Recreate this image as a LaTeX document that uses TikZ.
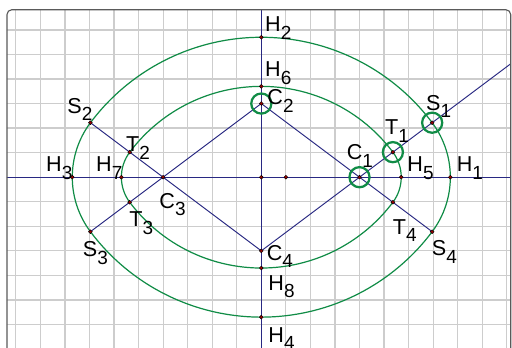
\documentclass[tikz,border=0pt]{standalone}
\usepackage{fontspec}
\setmainfont{Liberation Sans}
\usetikzlibrary{calc}
\definecolor{ggnavy}{RGB}{40,40,130}
\definecolor{gggreen}{RGB}{16,140,70}
\definecolor{gggrid}{RGB}{205,205,205}
\definecolor{ggdot}{RGB}{150,0,0}
\definecolor{ggframe}{RGB}{90,90,90}
\newcommand{\lb}[2]{{\fontsize{25}{25}\selectfont #1}\raisebox{-8.5pt}{\fontsize{22}{22}\selectfont #2}}
\begin{document}
\begin{tikzpicture}[
  gridline/.style={gggrid, line width=1.4pt},
  axisline/.style={ggnavy, line width=1.2pt},
  conline/.style={ggnavy, line width=1.1pt},
  arcline/.style={gggreen, line width=1.4pt},
  ring/.style={circle, draw=gggreen, line width=2.6pt, inner sep=0pt, minimum size=0.82cm},
  pt/.style={circle, fill=ggdot, draw=black, line width=0.5pt, inner sep=0pt, minimum size=4.5pt},
  lab/.style={anchor=base west, inner sep=0pt}
]
\useasboundingbox (-10.644,-6.917) rectangle (10.212,7.218);
\fill[white] (-10.644,-6.917) rectangle (10.212,7.218);
% points
\coordinate (O) at (0,0);
\coordinate (E) at (1,0);
\coordinate (C1) at (4,0);
\coordinate (C2) at (0,3);
\coordinate (C3) at (-4,0);
\coordinate (C4) at (0,-3);
\coordinate (H1) at (7.7,0);
\coordinate (H2) at (0,5.7);
\coordinate (H3) at (-7.7,0);
\coordinate (H4) at (0,-5.7);
\coordinate (H5) at (5.7,0);
\coordinate (H6) at (0,3.7);
\coordinate (H7) at (-5.7,0);
\coordinate (H8) at (0,-3.7);
\coordinate (S1) at (6.96,2.22);
\coordinate (S2) at (-6.96,2.22);
\coordinate (S3) at (-6.96,-2.22);
\coordinate (S4) at (6.96,-2.22);
\coordinate (T1) at (5.36,1.02);
\coordinate (T2) at (-5.36,1.02);
\coordinate (T3) at (-5.36,-1.02);
\coordinate (T4) at (5.36,-1.02);
\coordinate (Rend) at ($(C4)!3.5!(C1)$);
\begin{scope}
\clip[rounded corners=0.2cm] (-10.36,-8) rectangle (10.16,6.823);
\draw[gridline] (-11,-8) grid (11,7);
\draw[axisline] (-11,0) -- (11,0);
\draw[axisline] (0,-8) -- (0,7);
% construction lines
\draw[conline] (C4) -- (Rend);
\draw[conline] (C4) -- (S2);
\draw[conline] (C2) -- (S3);
\draw[conline] (C2) -- (S4);
% oval arcs
\draw[arcline] (S1) arc[start angle=36.8699, end angle=143.1301, radius=8.7]
  arc[start angle=143.1301, end angle=216.8699, radius=3.7]
  arc[start angle=216.8699, end angle=323.1301, radius=8.7]
  arc[start angle=-36.8699, end angle=36.8699, radius=3.7];
\draw[arcline] (T1) arc[start angle=36.8699, end angle=143.1301, radius=6.7]
  arc[start angle=143.1301, end angle=216.8699, radius=1.7]
  arc[start angle=216.8699, end angle=323.1301, radius=6.7]
  arc[start angle=-36.8699, end angle=36.8699, radius=1.7];
\end{scope}
\draw[ggframe, line width=1.3pt, rounded corners=0.2cm] (-10.36,-8) rectangle (10.16,6.823);
% rings
\node[ring] (rC1) at (C1) {};
\node[ring] (rC2) at (C2) {};
\node[ring] (rT1) at (T1) {};
\node[ring] (rS1) at (S1) {};
% dots
\foreach \p in {O,E,C1,C2,C3,C4,H1,H2,H3,H4,H5,H6,H7,H8,S1,S2,S3,S4,T1,T2,T3,T4}
  \node[pt] (d\p) at (\p) {};
% labels
\node[lab] (lH1) at (7.959,0.224) {\lb{H}{1}};
\node[lab] (lH2) at (0.151,5.927) {\lb{H}{2}};
\node[lab] (lH3) at (-8.77,0.224) {\lb{H}{3}};
\node[lab] (lH4) at (0.285,-6.713) {\lb{H}{4}};
\node[lab] (lH5) at (5.947,0.224) {\lb{H}{5}};
\node[lab] (lH6) at (0.151,4.094) {\lb{H}{6}};
\node[lab] (lH7) at (-6.733,0.224) {\lb{H}{7}};
\node[lab] (lH8) at (0.285,-4.607) {\lb{H}{8}};
\node[lab] (lC1) at (3.479,0.701) {\lb{C}{1}};
\node[lab] (lC2) at (0.244,2.941) {\lb{C}{2}};
\node[lab] (lC3) at (-4.155,-1.267) {\lb{C}{3}};
\node[lab] (lC4) at (0.22,-3.385) {\lb{C}{4}};
\node[lab] (lS1) at (6.709,2.737) {\lb{S}{1}};
\node[lab] (lS2) at (-7.902,2.603) {\lb{S}{2}};
\node[lab] (lS3) at (-7.275,-3.25) {\lb{S}{3}};
\node[lab] (lS4) at (6.941,-3.198) {\lb{S}{4}};
\node[lab] (lT1) at (5.039,1.719) {\lb{T}{1}};
\node[lab] (lT2) at (-5.511,1.039) {\lb{T}{2}};
\node[lab] (lT3) at (-5.377,-2.016) {\lb{T}{3}};
\node[lab] (lT4) at (5.352,-2.314) {\lb{T}{4}};
\end{tikzpicture}
\end{document}
